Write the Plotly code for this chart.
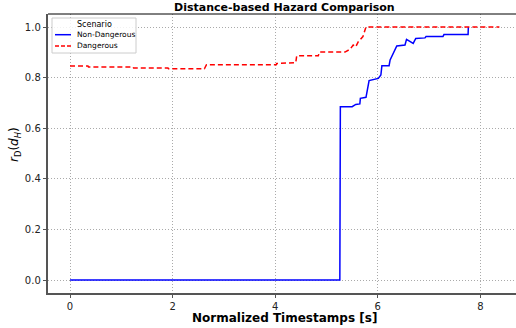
import plotly.graph_objects as go

# Data
non_dangerous_t = [0.0, 5.26, 5.27, 5.50, 5.57, 5.65, 5.66, 5.77, 5.83, 6.01, 6.06, 6.08, 6.22,
                   6.24, 6.37, 6.53, 6.56, 6.61, 6.69, 6.74, 6.92, 6.94, 7.27, 7.29, 7.76, 7.765]
non_dangerous_r = [0.0, 0.0, 0.685, 0.685, 0.694, 0.696, 0.718, 0.722, 0.788, 0.797, 0.810, 0.847, 0.847,
                   0.870, 0.925, 0.929, 0.951, 0.945, 0.935, 0.955, 0.957, 0.962, 0.962, 0.970, 0.970, 1.0]

dangerous_t = [0.0, 0.35, 0.36, 1.23, 1.24, 1.91, 1.92, 2.62, 2.66, 4.02, 4.03, 4.13, 4.15, 4.40,
               4.42, 4.84, 4.86, 5.36, 5.46, 5.52, 5.57, 5.62, 5.71, 5.75, 5.77, 8.37]
dangerous_r = [0.846, 0.846, 0.842, 0.842, 0.838, 0.838, 0.835, 0.835, 0.851, 0.851, 0.856, 0.856, 0.859,
               0.859, 0.886, 0.886, 0.901, 0.901, 0.912, 0.929, 0.922, 0.942, 0.962, 0.984, 1.0, 1.0]

x_ticks = [0, 2, 4, 6, 8]
y_ticks = [0.0, 0.2, 0.4, 0.6, 0.8, 1.0]

W, H = 516, 328
L, R, T, B = 48, 516, 14, 293  # plot area pixel bounds
FONT = "DejaVu Sans"

def px(xp):
    return (xp - L) / (R - L)

def py(yp):
    return (B - yp) / (B - T)

fig = go.Figure()
fig.add_trace(go.Scatter(x=non_dangerous_t, y=non_dangerous_r, mode="lines",
                         line=dict(color="#0000ff", width=1.5), name="Non-Dangerous",
                         showlegend=False))
fig.add_trace(go.Scatter(x=dangerous_t, y=dangerous_r, mode="lines",
                         line=dict(color="#ff0000", width=1.5, dash="5px,3px"), name="Dangerous",
                         showlegend=False))

shapes = []
# top spine
shapes.append(dict(type="line", xref="paper", yref="paper", x0=0, x1=1, y0=1, y1=1,
                   line=dict(color="black", width=1)))
# legend box
shapes.append(dict(type="rect", xref="paper", yref="paper", x0=px(52), x1=px(136), y0=py(53), y1=py(18),
                   line=dict(color="#cccccc", width=1), fillcolor="rgba(255,255,255,0.85)", layer="above"))
shapes.append(dict(type="line", xref="paper", yref="paper", x0=px(55), x1=px(71), y0=py(34.7), y1=py(34.7),
                   line=dict(color="#0000ff", width=1.5), layer="above"))
shapes.append(dict(type="line", xref="paper", yref="paper", x0=px(55), x1=px(71), y0=py(46), y1=py(46),
                   line=dict(color="#ff0000", width=1.5, dash="4px,2px"), layer="above"))

annotations = [
    dict(text="Scenario", xref="paper", yref="paper", x=px(94), y=py(24), showarrow=False,
         xanchor="center", yanchor="middle", font=dict(family=FONT, size=8, color="black")),
    dict(text="Non-Dangerous", xref="paper", yref="paper", x=px(75), y=py(34.7), showarrow=False,
         xanchor="left", yanchor="middle", font=dict(family=FONT, size=7.5, color="black")),
    dict(text="Dangerous", xref="paper", yref="paper", x=px(75), y=py(46), showarrow=False,
         xanchor="left", yanchor="middle", font=dict(family=FONT, size=7.5, color="black")),
    dict(text="<b>Distance-based Hazard Comparison</b>", xref="paper", yref="paper",
         x=px(284.5), y=py(7), showarrow=False, xanchor="center", yanchor="middle",
         font=dict(family=FONT, size=11, color="black")),
    dict(text="<b>Normalized Timestamps [s]</b>", xref="paper", yref="paper",
         x=px(284.5), y=py(318), showarrow=False, xanchor="center", yanchor="middle",
         font=dict(family=FONT, size=12, color="black")),
    dict(text="<i>r</i><sub>D</sub>(<i>d</i><sub><i>H</i></sub>)", xref="paper", yref="paper",
         x=px(15), y=py(145), showarrow=False, xanchor="center", yanchor="middle", textangle=-90,
         font=dict(family=FONT, size=12, color="black")),
]

fig.update_layout(
    width=W, height=H,
    margin=dict(l=L, r=W - R, t=T, b=H - B, pad=0),
    paper_bgcolor="white", plot_bgcolor="white",
    font=dict(family=FONT, size=10, color="black"),
    shapes=shapes, annotations=annotations, showlegend=False,
)
grid = dict(showgrid=True, gridcolor="#aaaaaa", griddash="1px,2px", gridwidth=0.8,
            showline=True, linecolor="#555555", linewidth=1.5, ticks="outside", ticklen=3.5,
            tickcolor="#555555", zeroline=False, tickfont=dict(family=FONT, size=10, color="#222"))
fig.update_xaxes(range=[-0.429, 8.694], tickvals=x_ticks, ticktext=[str(v) for v in x_ticks], **grid)
fig.update_yaxes(range=[-0.0514, 1.0514], tickvals=y_ticks, ticktext=[f"{v:.1f}" for v in y_ticks], **grid)

fig.write_html("out.html")
